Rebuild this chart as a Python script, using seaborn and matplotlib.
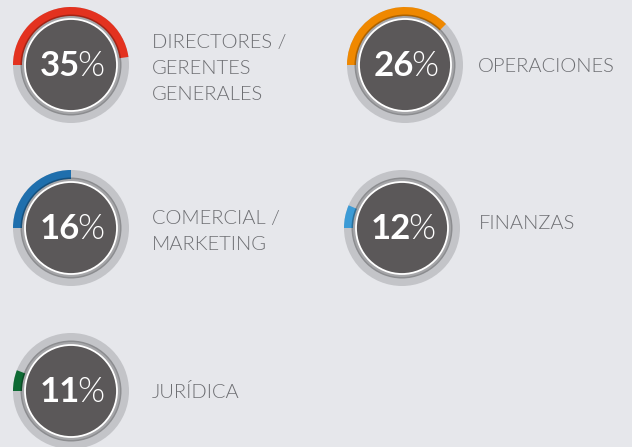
import matplotlib
matplotlib.use("Agg")
import matplotlib.pyplot as plt
from matplotlib.patches import Wedge, Circle
import seaborn as sns

# data
areas = ["DIRECTORES /\nGERENTES\nGENERALES", "OPERACIONES", "COMERCIAL /\nMARKETING",
         "FINANZAS", "JURÍDICA"]
shares = [35, 26, 16, 12, 11]
arc_degrees = [172, 135, 90, 23, 21]  # coloured arc as drawn, from 9 o'clock clockwise
arc_colors = ["#e3321f", "#ef8800", "#1f6fad", "#3c9bd6", "#0e6a34"]

# layout (pixels)
centers = [(71, 65), (405, 65), (71, 228), (402, 228), (71, 391)]
label_x = [152, 478, 152, 479, 152]
label_first_baseline = [48, 72, 224, 229, 398]
line_pitch = 26

bg = "#e6e7eb"
ring_gray = "#c3c4c8"
disk = "#5b5859"
label_color = "#6d6e72"

sns.set_theme(style="white", rc={"figure.facecolor": bg, "axes.facecolor": bg})
plt.rcParams["font.family"] = ["Lato", "DejaVu Sans"]

fig = plt.figure(figsize=(6.32, 4.47), dpi=100)
ax = fig.add_axes([0, 0, 1, 1])
ax.set_xlim(0, 632)
ax.set_ylim(447, 0)
ax.set_aspect("equal")
ax.axis("off")

R = 58
for (cx, cy), deg, col in zip(centers, arc_degrees, arc_colors):
    ax.add_patch(Wedge((cx, cy), R, 0, 360, width=R - 49, color=ring_gray, lw=0))
    # y axis is inverted, so 180 -> 180+deg runs clockwise on screen
    ax.add_patch(Wedge((cx, cy), R, 180, 180 + deg, width=R - 49, color=col, lw=0))
    ax.add_patch(Wedge((cx, cy), 50.5, 0, 360, width=5, color="black", alpha=0.28, lw=0))
    ax.add_patch(Circle((cx, cy), 46, facecolor=disk, edgecolor="white", lw=1.3))

fig.canvas.draw()
renderer = fig.canvas.get_renderer()
for (cx, cy), val in zip(centers, shares):
    t1 = ax.text(0, cy + 11, str(val), color="white", fontsize=25, fontweight="bold",
                 ha="left", va="baseline")
    t2 = ax.text(0, cy + 11, "%", color="white", fontsize=25, fontweight=300,
                 ha="left", va="baseline")
    w1 = t1.get_window_extent(renderer).width
    w2 = t2.get_window_extent(renderer).width
    gap = -2
    x0 = cx + 1 - (w1 + w2 + gap) / 2
    t1.set_x(x0)
    t2.set_x(x0 + w1 + gap)

for name, lx, base in zip(areas, label_x, label_first_baseline):
    for i, line in enumerate(name.split("\n")):
        ax.text(lx, base + i * line_pitch, line, color=label_color, fontsize=14.5,
                fontweight=300, ha="left", va="baseline")

fig.savefig("out.png", dpi=100, facecolor=bg)
